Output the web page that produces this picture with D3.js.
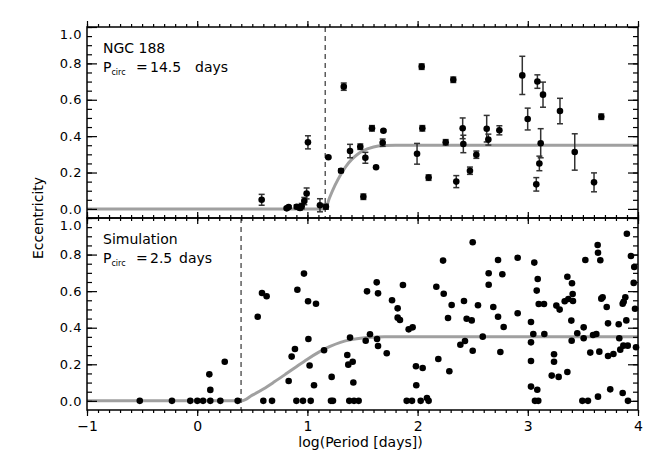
<!DOCTYPE html>
<html>
<head>
<meta charset="UTF-8">
<style>
  body { margin: 0; background: #fff; }
  text { font-family: "DejaVu Sans", sans-serif; fill: #000; }
</style>
<script src="https://d3js.org/d3.v7.min.js"></script>
</head>
<body>
<svg id="chart" width="664" height="465"></svg>
<script>
// NGC 188 binaries: log(period), eccentricity, error
var ngcLogP = [0.585, 0.812, 0.83, 0.903, 0.933, 0.948, 0.972, 0.993, 1.005, 1.114, 1.168, 1.19,
  1.305, 1.33, 1.387, 1.48, 1.508, 1.526, 1.586, 1.623, 1.69, 1.683, 1.995, 2.037, 2.043, 2.1,
  2.255, 2.324, 2.351, 2.409, 2.415, 2.475, 2.533, 2.627, 2.642, 2.742, 2.95, 2.999, 3.087,
  3.138, 3.117, 3.105, 3.077, 3.292, 3.426, 3.601, 3.667];
var ngcEcc = [0.05, 0.003, 0.01, 0.012, 0.005, 0.015, 0.043, 0.085, 0.366, 0.02, 0.012, 0.284,
  0.21, 0.672, 0.318, 0.342, 0.067, 0.281, 0.443, 0.229, 0.43, 0.364, 0.303, 0.782, 0.443, 0.172,
  0.366, 0.71, 0.15, 0.443, 0.357, 0.21, 0.298, 0.441, 0.381, 0.432, 0.734, 0.494, 0.7,
  0.628, 0.361, 0.25, 0.135, 0.538, 0.313, 0.146, 0.507];
var ngcErr = [0.03, 0.006, 0.006, 0.01, 0.01, 0.015, 0.02, 0.03, 0.036, 0.036, 0.014, 0.005,
  0.01, 0.02, 0.037, 0.015, 0.015, 0.03, 0.015, 0.005, 0.005, 0.02, 0.057, 0.015, 0.015, 0.015,
  0.015, 0.015, 0.033, 0.057, 0.048, 0.02, 0.02, 0.073, 0.03, 0.025, 0.105, 0.06, 0.037,
  0.069, 0.08, 0.04, 0.037, 0.07, 0.1, 0.052, 0.015];

// simulated binaries: log(period), eccentricity
var simLogP = [-0.521, -0.229, -0.063, 0.001, 0.053, 0.119, 0.21, 0.367, 0.6, 0.679, 0.9, 0.96,
  1.03, 1.214, 1.232, 1.38, 1.423, 1.465, 1.901, 1.949, 2.028, 2.1, 3.065, 3.095, 3.495, 3.546, 3.909,
  0.11, 0.119, 0.25, 0.549, 0.588, 0.63, 0.83, 0.857, 0.887, 0.909, 0.969, 1.006, 1.009, 1.02,
  1.06, 1.078, 1.151, 1.22, 1.362, 1.371, 1.411, 1.417, 1.387, 1.529, 1.568, 1.632, 1.641, 1.541,
  1.629, 1.641, 1.72, 1.768, 1.819, 1.819, 1.84, 1.867, 1.919, 1.955, 1.985, 2.046, 1.988, 2.085,
  2.17, 2.188, 2.231, 2.237, 2.276, 2.288, 2.309, 2.388, 2.43, 2.421, 2.445, 2.491, 2.5, 2.5,
  2.548, 2.591, 2.645, 2.645, 2.687, 2.73, 2.73, 2.769, 2.781, 2.751, 2.908, 2.908, 3.029, 3.029,
  3.029, 3.029, 3.059, 3.081, 3.09, 3.05, 3.086, 3.099, 3.147, 3.15, 3.238, 3.238, 3.217, 3.28,
  3.259, 3.289, 3.335, 3.359, 3.359, 3.368, 3.401, 3.407, 3.41, 3.395, 3.398, 3.449, 3.507, 3.507,
  3.522, 3.567, 3.592, 3.622, 3.634, 3.637, 3.658, 3.637, 3.649, 3.667, 3.679, 3.716, 3.728, 3.728,
  3.777, 3.748, 3.825, 3.83, 3.839, 3.867, 3.861, 3.861, 3.87, 3.885, 3.894, 3.907, 3.899, 3.936,
  3.966, 3.961, 3.973, 3.982];
var simEcc = [0, 0, 0, 0, 0, 0, 0, 0, 0, 0, 0, 0,
  0, 0, 0, 0, 0, 0, 0, 0, 0, 0, 0, 0, 0, 0, 0,
  0.145, 0.06, 0.214, 0.46, 0.59, 0.572, 0.109, 0.242, 0.284, 0.608, 0.696, 0.545, 0.338, 0.193,
  0.085, 0.531, 0.277, 0.131, 0.251, 0.198, 0.214, 0.1, 0.346, 0.329, 0.364, 0.338, 0.3, 0.599,
  0.648, 0.588, 0.26, 0.55, 0.506, 0.455, 0.442, 0.634, 0.391, 0.402, 0.189, 0.18, 0.085, 0.016,
  0.624, 0.229, 0.767, 0.586, 0.453, 0.162, 0.524, 0.307, 0.327, 0.546, 0.449, 0.44, 0.867, 0.274,
  0.523, 0.351, 0.698, 0.635, 0.513, 0.77, 0.46, 0.692, 0.404, 0.267, 0.783, 0.479, 0.431, 0.32,
  0.218, 0.078, 0.756, 0.603, 0.666, 0.366, 0.061, 0.53, 0.53, 0.366, 0.255, 0.214, 0.138, 0.131,
  0.521, 0.499, 0.545, 0.158, 0.679, 0.557, 0.643, 0.584, 0.546, 0.439, 0.329, 0.37, 0.402, 0.342,
  0.77, 0.264, 0.36, 0.366, 0.852, 0.81, 0.769, 0.023, 0.269, 0.559, 0.566, 0.513, 0.424, 0.245,
  0.256, 0.063, 0.419, 0.342, 0.28, 0.302, 0.043, 0.531, 0.542, 0.566, 0.44, 0.302, 0.914, 0.792,
  0.732, 0.645, 0.504, 0.293];

// circularization curves
var ngcCurveLogP = [-1, 1.161, 1.2, 1.25, 1.3, 1.35, 1.4, 1.45, 1.5, 1.6, 1.7, 1.8, 4];
var ngcCurveEcc = [0, 0, 0.06, 0.129, 0.187, 0.234, 0.271, 0.298, 0.318, 0.34, 0.348, 0.35, 0.35];
var simCurveLogP = [-1, 0.398, 0.5, 0.6, 0.7, 0.8, 0.9, 1.0, 1.1, 1.2, 1.3, 1.4, 1.5, 1.6, 1.7, 4];
var simCurveEcc = [0, 0, 0.031, 0.065, 0.104, 0.145, 0.187, 0.228, 0.265, 0.296, 0.32, 0.335, 0.344, 0.348, 0.35, 0.35];

var ngcPcirc = 14.5, simPcirc = 2.5;
var xTicks = [-1, 0, 1, 2, 3, 4];
var yTicks = [0, 0.2, 0.4, 0.6, 0.8, 1.0];

var svg = d3.select("#chart");
var left = 87, right = 638;
var x = d3.scaleLinear().domain([-1, 4]).range([left, right]);
var xMinor = d3.range(-1, 4.001, 0.1);
var yMinor = d3.range(0, 1.001, 0.05);

function drawPanel(top, bottom, name, pcirc, curveX, curveY, showXLabels) {
    var y = d3.scaleLinear().domain([-0.05, 1.0]).range([bottom, top]);
    var g = svg.append("g");

    // fit curve
    var line = d3.line()
        .x(function(d) { return x(d[0]); })
        .y(function(d) { return y(d[1]); })
        .curve(d3.curveMonotoneX);
    g.append("path")
        .datum(d3.zip(curveX, curveY))
        .attr("d", line)
        .attr("fill", "none")
        .attr("stroke", "#a0a0a0")
        .attr("stroke-width", 3);

    // P_circ marker
    g.append("line")
        .attr("x1", x(Math.log10(pcirc))).attr("x2", x(Math.log10(pcirc)))
        .attr("y1", top).attr("y2", bottom)
        .attr("stroke", "#222")
        .attr("stroke-width", 1.1)
        .attr("stroke-dasharray", "5,4");

    // axes: majors and minors on all sides
    function axis(gen, tx, ty, vals, size, fmt) {
        var a = g.append("g")
            .attr("transform", "translate(" + tx + "," + ty + ")")
            .call(gen.tickValues(vals).tickSize(size).tickPadding(0).tickFormat(fmt || ""));
        a.select(".domain").remove();
        a.selectAll("line").attr("stroke", "#000").attr("stroke-width", 1.2);
        return a;
    }
    var yl = axis(d3.axisLeft(y), left, 0, yTicks, -10, d3.format(".1f"));
    yl.selectAll("text")
        .attr("font-size", 13).attr("font-family", "DejaVu Sans")
        .attr("letter-spacing", 0.5).attr("x", -5)
        .attr("transform", function(d) { return d === 1 ? "translate(0,7)" : null; });
    axis(d3.axisLeft(y), left, 0, yMinor, -5);
    axis(d3.axisRight(y), right, 0, yTicks, -10);
    axis(d3.axisRight(y), right, 0, yMinor, -5);
    axis(d3.axisTop(x), 0, bottom, xTicks, -6);
    axis(d3.axisTop(x), 0, bottom, xMinor, -3);
    axis(d3.axisBottom(x), 0, top, xTicks, -6);
    axis(d3.axisBottom(x), 0, top, xMinor, -3);
    if (showXLabels) {
        var xb = axis(d3.axisBottom(x), 0, bottom, xTicks, 0, d3.format("d"));
        xb.selectAll("line").remove();
        xb.selectAll("text").attr("font-size", 14).attr("font-family", "DejaVu Sans").attr("y", 11);
    }

    // frame
    g.append("rect")
        .attr("x", left).attr("y", top)
        .attr("width", right - left).attr("height", bottom - top)
        .attr("fill", "none")
        .attr("stroke", "#000")
        .attr("stroke-width", 1.5);

    // labels
    var lx = 103;
    g.append("text").attr("x", lx).attr("y", top + 26).attr("font-size", 14).text(name);
    var t = g.append("text").attr("x", lx).attr("y", top + 45).attr("font-size", 14);
    t.append("tspan").text("P");
    t.append("tspan").attr("font-size", 8).attr("dy", 3).text("circ");
    t.append("tspan").attr("dy", -3).attr("x", lx + 33).text("=");
    t.append("tspan").attr("x", lx + 47).text(pcirc);
    t.append("tspan").attr("x", lx + (pcirc < 10 ? 76 : 92)).text("days");

    return { g: g, y: y };
}

var p1 = drawPanel(27, 218, "NGC 188", ngcPcirc, ngcCurveLogP, ngcCurveEcc, false);
var p2 = drawPanel(218, 410, "Simulation", simPcirc, simCurveLogP, simCurveEcc, true);

// NGC 188 points with error bars
var ngc = d3.range(ngcLogP.length).map(function(i) {
    return { p: ngcLogP[i], e: ngcEcc[i], err: ngcErr[i] };
});
var eb = p1.g.append("g").attr("stroke", "#333").attr("stroke-width", 1.5);
ngc.forEach(function(d) {
    var cx = x(d.p), y0 = p1.y(d.e - d.err), y1 = p1.y(d.e + d.err);
    eb.append("line").attr("x1", cx).attr("x2", cx).attr("y1", y0).attr("y2", y1);
    eb.append("line").attr("x1", cx - 3).attr("x2", cx + 3).attr("y1", y0).attr("y2", y0);
    eb.append("line").attr("x1", cx - 3).attr("x2", cx + 3).attr("y1", y1).attr("y2", y1);
});
p1.g.selectAll(".ngc")
    .data(ngc)
    .enter()
    .append("circle")
    .attr("class", "ngc")
    .attr("cx", function(d) { return x(d.p); })
    .attr("cy", function(d) { return p1.y(d.e); })
    .attr("r", 3.3)
    .attr("fill", "#000");

// simulation points
p2.g.selectAll(".sim")
    .data(d3.zip(simLogP, simEcc))
    .enter()
    .append("circle")
    .attr("class", "sim")
    .attr("cx", function(d) { return x(d[0]); })
    .attr("cy", function(d) { return p2.y(d[1]); })
    .attr("r", 3.3)
    .attr("fill", "#000");

// axis titles
svg.append("text")
    .attr("x", (left + right) / 2 - 2).attr("y", 447)
    .attr("text-anchor", "middle")
    .attr("font-size", 14)
    .text("log(Period [days])");
svg.append("text")
    .attr("transform", "translate(43,218) rotate(-90)")
    .attr("text-anchor", "middle")
    .attr("font-size", 14)
    .text("Eccentricity");
</script>
</body>
</html>
